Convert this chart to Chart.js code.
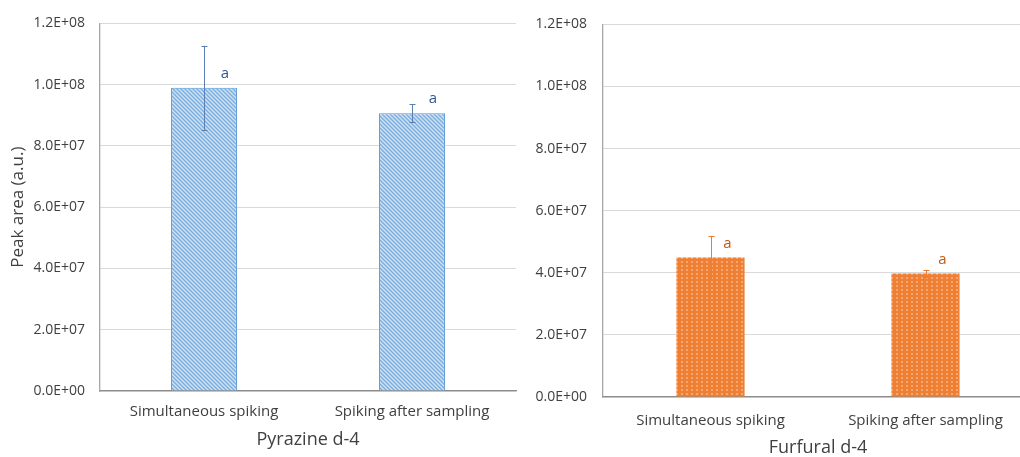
<!DOCTYPE html>
<html>
<head>
<meta charset="utf-8">
<script src="https://cdn.jsdelivr.net/npm/chart.js@4.4.1/dist/chart.umd.min.js"></script>
<style>
  html, body { margin: 0; padding: 0; background: #fff; overflow: hidden; width: 1020px; height: 457px; }
  .wrap { position: absolute; top: 0; }
  #w1 { left: 0; width: 520px; height: 457px; }
  #w2 { left: 520px; width: 520px; height: 460px; }
</style>
</head>
<body>
<div class="wrap" id="w1"><canvas id="c1"></canvas></div>
<div class="wrap" id="w2"><canvas id="c2"></canvas></div>
<script>
// ---- data ----
const categories = ["Simultaneous spiking", "Spiking after sampling"];
const pyrazineValues = [9.9e7, 9.07e7];
const pyrazineErrors = [1.37e7, 0.3e7];
const pyrazineLetters = ["a", "a"];
const furfuralValues = [4.49e7, 3.98e7];
const furfuralErrors = [0.7e7, 0.11e7];
const furfuralLetters = ["a", "a"];
const yMin = 0, yMax = 1.2e8, yStep = 2e7;
const titles = ["Pyrazine d-4", "Furfural d-4"];
const yTitle = "Peak area (a.u.)";

const FONT = "'Open Sans', 'Liberation Sans', sans-serif";

function fmtExp(v) {
  if (v === 0) return "0.0E+00";
  const s = v.toExponential(1).toUpperCase();
  const m = s.match(/^(-?[\d.]+)E([+-])(\d+)$/);
  return m[1] + "E" + m[2] + m[3].padStart(2, "0");
}

function hatchPattern() {
  const c = document.createElement("canvas");
  c.width = 4; c.height = 4;
  const g = c.getContext("2d");
  g.fillStyle = "#CFE2F4";
  g.fillRect(0, 0, 4, 4);
  g.strokeStyle = "#7AAEDF";
  g.lineWidth = 1.4;
  g.beginPath();
  g.moveTo(-1, -1); g.lineTo(5, 5);
  g.moveTo(-1, 3); g.lineTo(1, 5);
  g.moveTo(3, -1); g.lineTo(5, 1);
  g.stroke();
  return g.createPattern(c, "repeat");
}
function dotPattern() {
  const c = document.createElement("canvas");
  c.width = 5; c.height = 4;
  const g = c.getContext("2d");
  g.fillStyle = "#EE7F33";
  g.fillRect(0, 0, 5, 4);
  g.fillStyle = "#F4A771";
  g.fillRect(1, 1, 2, 2);
  return g.createPattern(c, "repeat");
}

const errPlugin = {
  id: "errbars",
  afterDatasetsDraw(chart, args, opts) {
    const ctx = chart.ctx;
    const ys = chart.scales.y;
    const meta = chart.getDatasetMeta(0);
    ctx.save();
    meta.data.forEach((bar, i) => {
      const v = opts.values[i], e = opts.errors[i];
      const yt = ys.getPixelForValue(v + e), yb = ys.getPixelForValue(v - e);
      const x = Math.round(bar.x) + 0.5;
      ctx.strokeStyle = opts.color;
      ctx.lineWidth = 1;
      ctx.beginPath();
      ctx.moveTo(x, yt); ctx.lineTo(x, yb);
      ctx.moveTo(x - 3, Math.round(yt) + 0.5); ctx.lineTo(x + 3, Math.round(yt) + 0.5);
      ctx.moveTo(x - 3, Math.round(yb) + 0.5); ctx.lineTo(x + 3, Math.round(yb) + 0.5);
      ctx.stroke();
      ctx.fillStyle = opts.textColor;
      ctx.font = "15px " + FONT;
      ctx.textAlign = "center";
      ctx.textBaseline = "middle";
      ctx.fillText(opts.letters[i], bar.x + opts.dx, ys.getPixelForValue(v) - 14);
    });
    ctx.restore();
  }
};

function makeChart(id, values, errors, letters, fill, border, errColor, textColor, title, opt) {
  return new Chart(document.getElementById(id), {
    type: "bar",
    data: {
      labels: categories,
      datasets: [{
        data: values,
        backgroundColor: fill,
        borderColor: border,
        borderWidth: border ? 1 : 0,
        categoryPercentage: 1,
        barPercentage: 0.317
      }]
    },
    plugins: [errPlugin],
    options: {
      responsive: true,
      maintainAspectRatio: false,
      animation: false,
      devicePixelRatio: 1,
      layout: { padding: { left: 0, right: opt.padRight, top: opt.top, bottom: 0 } },
      plugins: {
        legend: { display: false },
        tooltip: { enabled: false },
        errbars: { values, errors, letters, color: errColor, textColor, dx: opt.dx }
      },
      scales: {
        x: {
          grid: { display: false, drawTicks: false, tickLength: 0 },
          border: { display: true, color: "#8C8C8C", width: 1.3 },
          ticks: { color: "#404040", font: { family: FONT, size: 15 }, padding: opt.xTickPad, maxRotation: 0 },
          title: { display: true, text: title, color: "#404040", font: { family: FONT, size: 18 }, padding: { top: 0, bottom: opt.xTitlePad } },
          afterFit(s) { s.height = opt.xHeight; }
        },
        y: {
          min: yMin, max: yMax,
          grid: { color: "#D9D9D9", lineWidth: 1, drawTicks: false, tickLength: 0 },
          border: { display: true, color: "#A6A6A6", width: 1.3 },
          ticks: { stepSize: yStep, color: "#404040", font: { family: FONT, size: 14 }, padding: opt.yTickPad, callback: v => fmtExp(v) },
          title: { display: !!opt.yTitle, text: opt.yTitle || "", color: "#404040", font: { family: FONT, size: 17 }, padding: { top: 8, bottom: 0 } },
          afterFit(s) { s.width = opt.yWidth; }
        }
      }
    }
  });
}

makeChart("c1", pyrazineValues, pyrazineErrors, pyrazineLetters, hatchPattern(), "#5B9BD5", "#5A7FB5", "#2F5597", titles[0],
  { padRight: 4, top: 19, xHeight: 66, xTickPad: 12, xTitlePad: 6, yWidth: 100, yTickPad: 15, yTitle: yTitle, dx: 21 });
makeChart("c2", furfuralValues, furfuralErrors, furfuralLetters, dotPattern(), null, "#ED7D31", "#C55A11", titles[1],
  { padRight: 7, top: 16, xHeight: 63, xTickPad: 15, xTitlePad: 1, yWidth: 83, yTickPad: 16, yTitle: null, dx: 17 });
</script>
</body>
</html>
